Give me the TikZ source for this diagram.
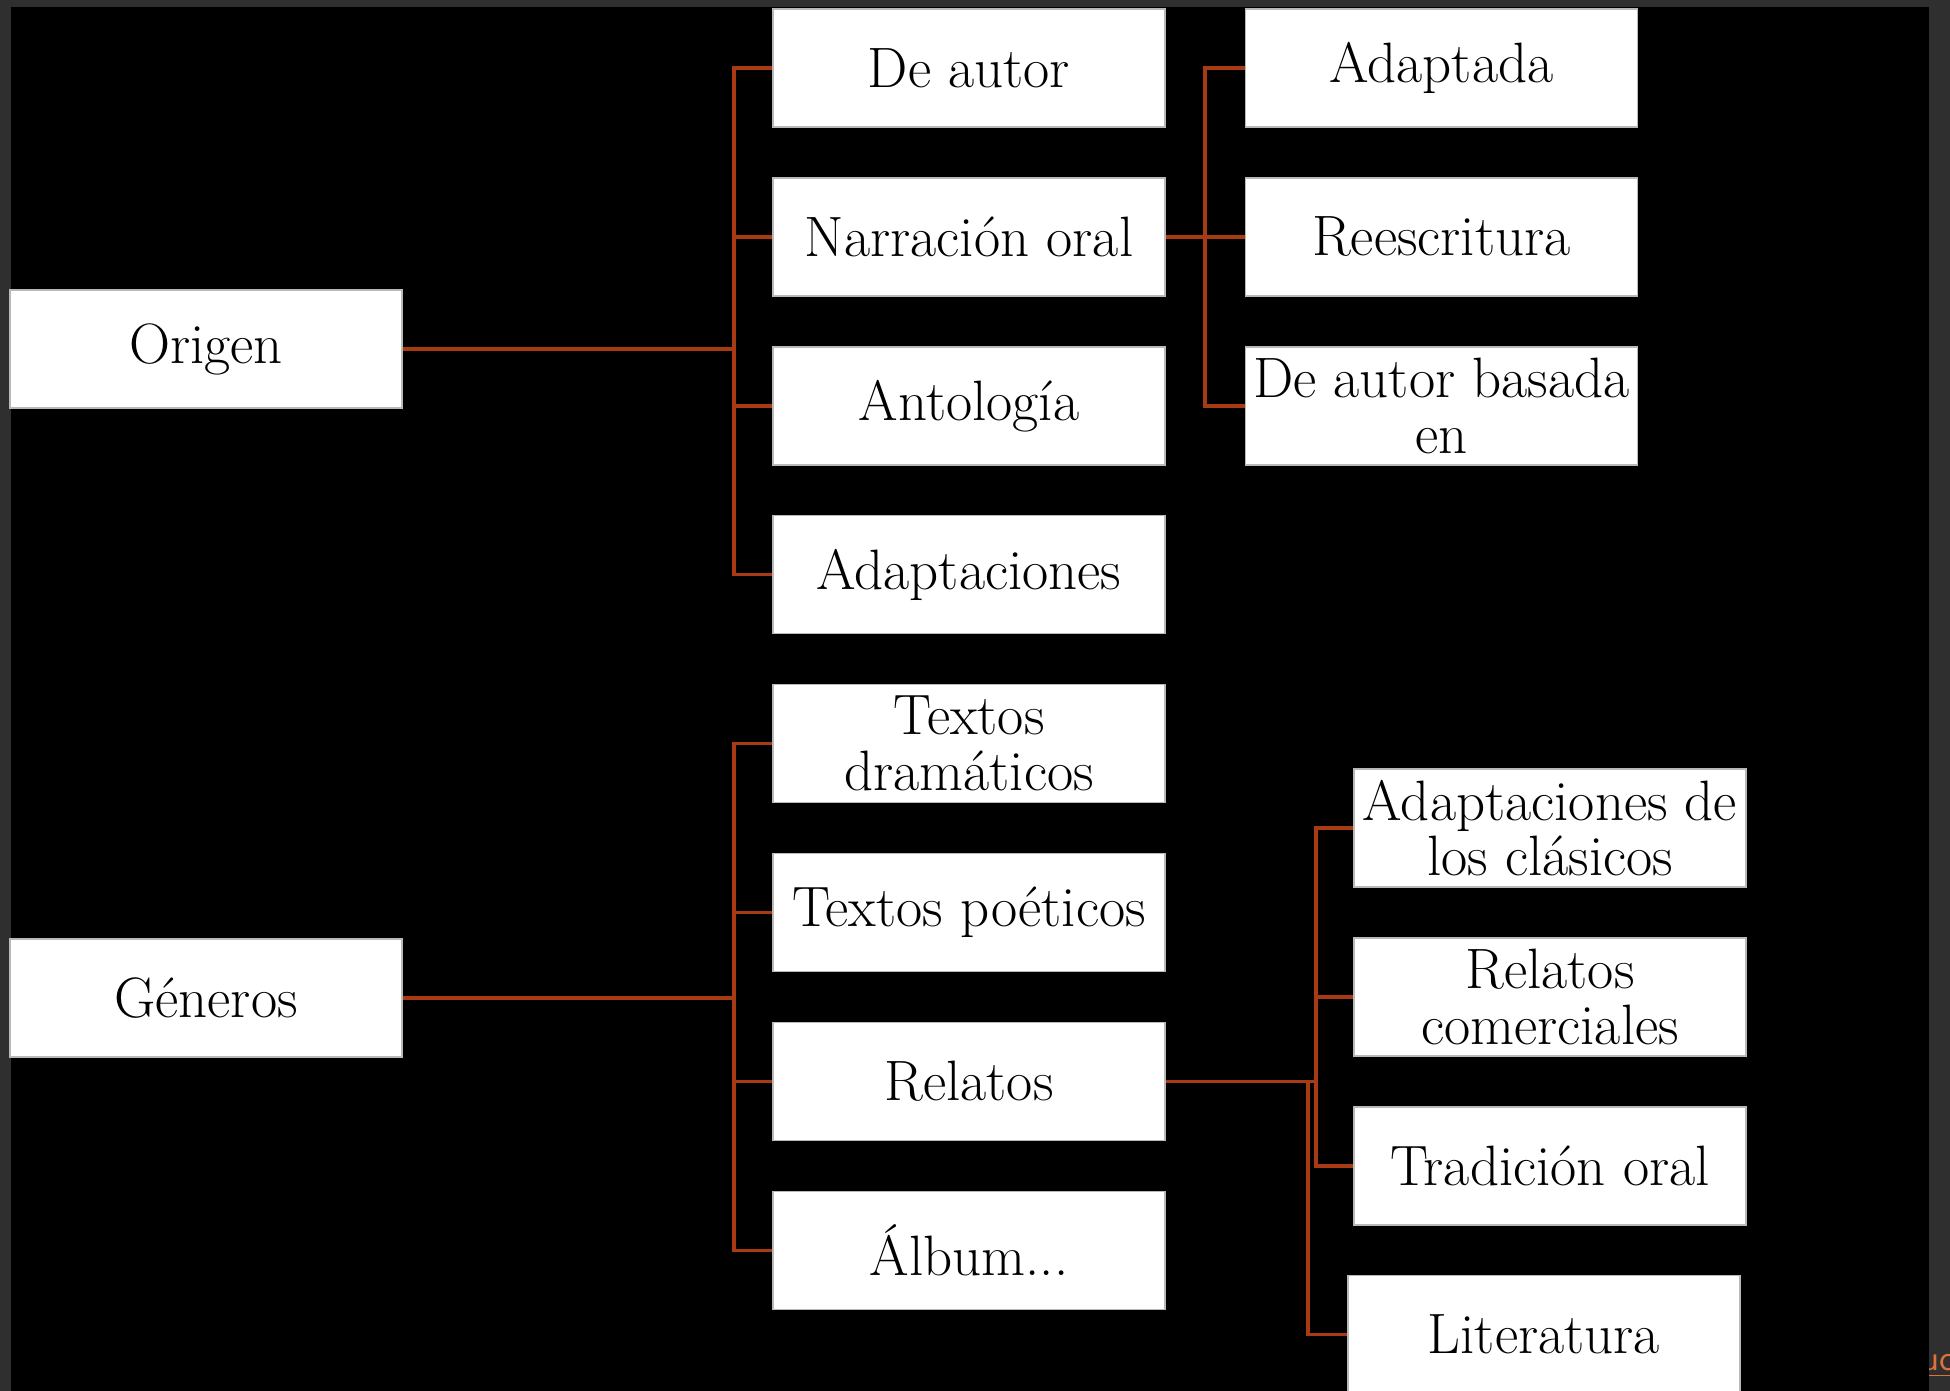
\documentclass[tikz,border=0pt]{standalone}
\usepackage{tikz}
\usetikzlibrary{positioning}
\definecolor{linkc}{HTML}{A83A14}
\definecolor{frame}{HTML}{2F2F2F}
\definecolor{note}{HTML}{E0703C}

\begin{document}
\begin{tikzpicture}[
  node distance=4.95mm and 7.9mm,
  box/.style={draw=gray!55,fill=white,minimum width=3.92cm,minimum height=1.18cm,inner sep=0pt,align=center,font=\fontsize{16.2}{15.8}\selectfont},
  link/.style={draw=linkc,line width=1pt}
]
\fill[frame] (0,0) rectangle (19.5,-13.91);
\useasboundingbox (0,0) rectangle (19.5,-13.91);
\node[text=note,anchor=base west,font=\sffamily\fontsize{10}{12}\selectfont,inner sep=0pt] (corner) at (19.21,-13.70) {\underline{uc}};
\fill[black] (0.11,-0.07) rectangle (19.29,-13.91);

% roots
\node[box] (origen) at (2.06,-3.49) {Origen};
\node[box] (generos) at (2.06,-9.98) {Géneros};

% second column
\node[box] (dautor) at (9.69,-0.68) {De autor};
\node[box,below=of dautor] (narracion) {Narración oral};
\node[box,below=of narracion] (antologia) {Antología};
\node[box,below=of antologia] (adaptaciones) {Adaptaciones};
\node[box,below=of adaptaciones] (dramaticos) {Textos\\dramáticos};
\node[box,below=of dramaticos] (poeticos) {Textos poéticos};
\node[box,below=of poeticos] (relatos) {Relatos};
\node[box,below=of relatos] (album) {Álbum...};

% third column
\node[box,right=of dautor] (adaptada) {Adaptada};
\node[box,right=of narracion] (reescritura) {Reescritura};
\node[box,right=of antologia] (basada) {De autor basada\\en};
\node[box] (clasicos) at (15.50,-8.28) {Adaptaciones de\\los clásicos};
\node[box,below=of clasicos] (comerciales) {Relatos\\comerciales};
\node[box,below=of comerciales] (tradicion) {Tradición oral};
\node[box,below=of tradicion,xshift=-0.6mm] (literatura) {Literatura};

% buses
\coordinate (busa) at (7.34,0);
\coordinate (busb) at (12.05,0);
\coordinate (busc) at (13.16,0);
\coordinate (busd) at (13.08,0);

\draw[link] (origen.east) -- (origen.east -| busa);
\foreach \n in {dautor,narracion,antologia,adaptaciones}
  \draw[link] (origen.east -| busa) |- (\n.west);
\draw[link] (generos.east) -- (generos.east -| busa);
\foreach \n in {dramaticos,poeticos,relatos,album}
  \draw[link] (generos.east -| busa) |- (\n.west);
\draw[link] (narracion.east) -- (narracion.east -| busb);
\foreach \n in {adaptada,reescritura,basada}
  \draw[link] (narracion.east -| busb) |- (\n.west);
\draw[link] (relatos.east) -- (relatos.east -| busc);
\foreach \n in {clasicos,comerciales,tradicion}
  \draw[link] (relatos.east -| busc) |- (\n.west);
\draw[link] (relatos.east -| busd) |- (literatura.west);
\end{tikzpicture}
\end{document}
